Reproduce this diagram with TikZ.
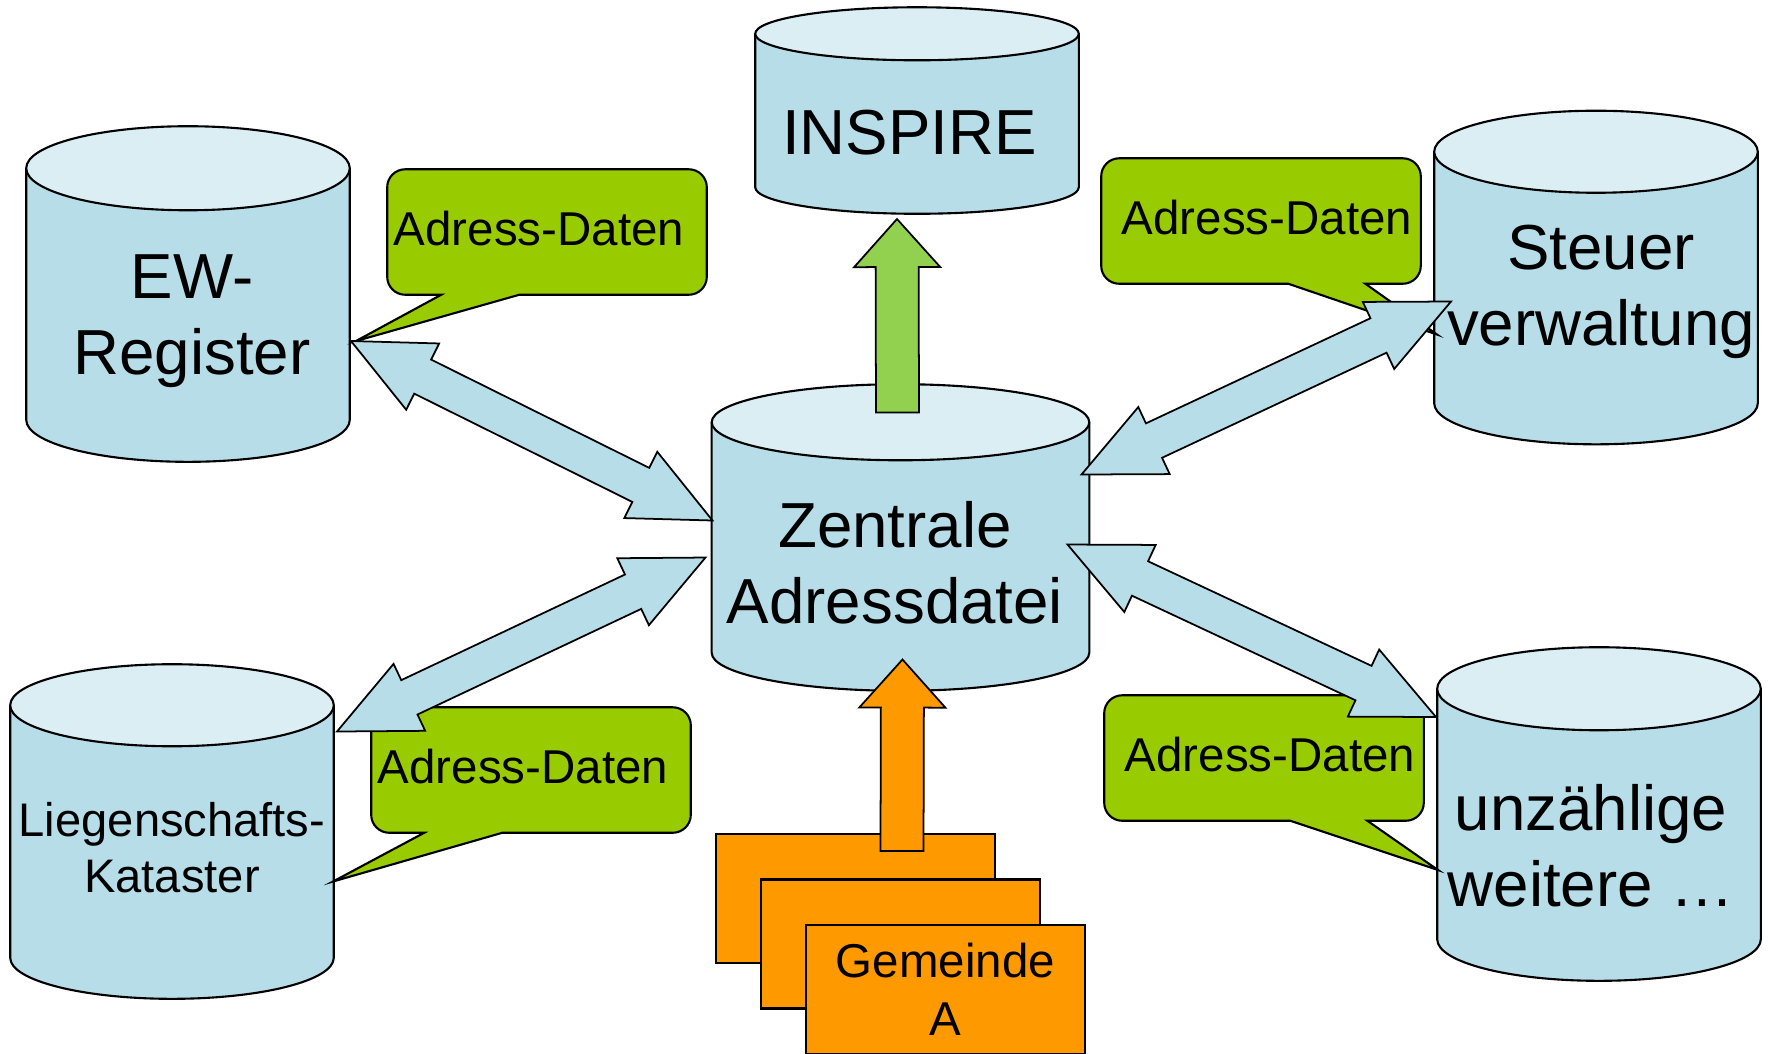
\documentclass[tikz,border=0pt]{standalone}
\usepackage{fontspec}
\setmainfont{Liberation Sans}
\usetikzlibrary{calc,backgrounds}

\definecolor{dbbody}{HTML}{B7DEE8}
\definecolor{dbend}{HTML}{DAEEF3}
\definecolor{adrgreen}{HTML}{99CC00}
\definecolor{outgreen}{HTML}{92D050}
\definecolor{gemorange}{HTML}{FF9900}

\newcommand{\bigfont}{\fontsize{18.1}{21.6}\selectfont}
\newcommand{\adrfont}{\fontsize{13.5}{16.5}\selectfont}

% cylinder round node #1, end radius #2
\newcommand{\dbcyl}[2]{%
  \draw[dbline,fill=dbbody] let \p1=($(#1.east)-(#1.center)$) in
    ([yshift=-#2]#1.north west) -- ([yshift=#2]#1.south west)
    arc[start angle=180,end angle=360,x radius=\x1,y radius=#2] -- ([yshift=-#2]#1.north east);
  \draw[dbline,fill=dbend] let \p1=($(#1.east)-(#1.center)$) in
    ([yshift=-#2]#1.north) ellipse[x radius=\x1,y radius=#2];}
% block arrow with two heads, from #2 to #3
\newcommand{\dblblock}[3][]{%
  \draw[blockarrow,#1] let \p1=(#2), \p2=(#3), \n1={atan2(\y2-\y1,\x2-\x1)}, \n2={veclen(\x2-\x1,\y2-\y1)} in
    [shift={(\p1)},rotate=\n1] (0,0) -- (0.8cm,0.37cm) -- (0.8cm,0.19cm) -- (\n2-0.8cm,0.19cm)
    -- (\n2-0.8cm,0.37cm) -- (\n2,0) -- (\n2-0.8cm,-0.37cm) -- (\n2-0.8cm,-0.19cm)
    -- (0.8cm,-0.19cm) -- (0.8cm,-0.37cm) -- cycle;}
% block arrow with one head, from #2 to #3
\newcommand{\oneblock}[3][]{%
  \draw[blockarrow,#1] let \p1=(#2), \p2=(#3), \n1={atan2(\y2-\y1,\x2-\x1)}, \n2={veclen(\x2-\x1,\y2-\y1)} in
    [shift={(\p1)},rotate=\n1] (0,0.215cm) -- (\n2-0.48cm,0.215cm) -- (\n2-0.48cm,0.43cm) -- (\n2,0)
    -- (\n2-0.48cm,-0.43cm) -- (\n2-0.48cm,-0.215cm) -- (0,-0.215cm) -- cycle;}
% speech bubble round node #1, pointing to #2
\newcommand{\adrcallout}[4]{%
  \draw[calloutshape] (#1.north) [rounded corners=0.18cm] -- (#1.north west) -- (#1.south west)
    [sharp corners] -- ([xshift=#3]#1.south west) -- (#2) -- ([xshift=#4]#1.south west)
    [rounded corners=0.18cm] -- (#1.south east) -- (#1.north east) -- cycle;}

\begin{document}
\begin{tikzpicture}[x=0.01cm,y=-0.01cm,
  dbnode/.style={inner sep=0pt,minimum width=3.22cm},
  dbtext/.style={inner sep=0pt,align=center,font=\bigfont},
  dbline/.style={draw,line width=0.6pt},
  adrbox/.style={minimum width=3.18cm,minimum height=1.24cm,inner sep=0pt},
  adrtext/.style={inner sep=0pt,font=\adrfont,yshift=0.03cm},
  calloutshape/.style={draw,line width=0.6pt,fill=adrgreen},
  blockarrow/.style={draw,line width=0.5pt,fill=dbbody},
  gembox/.style={draw,line width=0.7pt,fill=gemorange,minimum width=2.79cm,minimum height=1.29cm,
    inner sep=0pt,align=center,font=\adrfont}]
 \useasboundingbox (0,0) rectangle (1769,1053);

 % data stores
 \node[dbnode,minimum height=3.34cm,
   label={[dbtext,xshift=0.04cm,yshift=-0.275cm]center:EW-\\Register}] (ew) at (188,294) {};
 \node[dbnode,minimum height=2.05cm,
   label={[dbtext,xshift=-0.075cm,yshift=-0.225cm]center:INSPIRE}] (insp) at (917,110.5) {};
 \node[dbnode,minimum height=3.32cm,
   label={[dbtext,xshift=0.05cm,yshift=-0.14cm]center:Steuer\\verwaltung}] (st) at (1596,277.5) {};
 \node[dbnode,minimum width=3.76cm,minimum height=3.05cm,
   label={[dbtext,xshift=-0.055cm,yshift=-0.25cm]center:Zentrale\\Adressdatei}] (za) at (900.5,537.5) {};
 \node[dbnode,minimum height=3.33cm,label={[dbtext,yshift=-0.165cm,font=\fontsize{13.4}{15.9}\selectfont]
   center:Liegenschafts-\\Kataster}] (lk) at (172,831.5) {};
 \node[dbnode,minimum height=3.32cm,
   label={[dbtext,xshift=-0.08cm,yshift=-0.32cm]center:unzählige\\weitere …}] (uw) at (1599,814) {};

 % speech bubbles
 \node[adrbox,label={[adrtext,xshift=-0.08cm]center:Adress-Daten}] (c1) at (547,232) {};
 \node[adrbox,label={[adrtext,xshift=0.06cm]center:Adress-Daten}] (c2) at (1261,221) {};
 \node[adrbox,label={[adrtext,xshift=-0.08cm]center:Adress-Daten}] (c3) at (531,770) {};
 \node[adrbox,label={[adrtext,xshift=0.06cm]center:Adress-Daten}] (c4) at (1264,758) {};

 \begin{scope}[on background layer]
  \dbcyl{ew}{0.42cm}
  \dbcyl{insp}{0.265cm}
  \dbcyl{st}{0.41cm}
  \dbcyl{za}{0.38cm}
  \dbcyl{lk}{0.41cm}
  \dbcyl{uw}{0.415cm}
  \adrcallout{c1}{[shift={(168,47)}]ew.center}{0.54cm}{1.32cm}
  \adrcallout{c2}{[shift={(-159,57)}]st.center}{1.87cm}{2.64cm}
  \adrcallout{c3}{[shift={(161,50)}]lk.center}{0.53cm}{1.31cm}
  \adrcallout{c4}{[shift={(-161,56)}]uw.center}{1.86cm}{2.63cm}
 \end{scope}

 % municipalities
 \node[gembox] (g1) at (855.5,898.5) {};
 \node[gembox] (g2) at ([shift={(45,45.5)}]g1.center) {};
 \node[gembox] (g3) at ([shift={(45,45.5)}]g2.center) {Gemeinde\\A};

 % exchange arrows
 \dblblock{[shift={(163,47)}]ew.center}{[shift={(-188,-17)}]za.center}
 \dblblock{[shift={(-145,24)}]st.center}{[shift={(181,-63)}]za.center}
 \dblblock{[shift={(165,-100)}]lk.center}{[shift={(-195,20)}]za.center}
 \dblblock{[shift={(-163,-97)}]uw.center}{[shift={(167,7)}]za.center}
 \oneblock[fill=outgreen]{[shift={(-3,-125)}]za.center}{[shift={(-20,108.5)}]insp.center}
 \oneblock[fill=gemorange]{[shift={(46.5,-47.5)}]g1.center}{[shift={(2,122)}]za.center}
\end{tikzpicture}
\end{document}
